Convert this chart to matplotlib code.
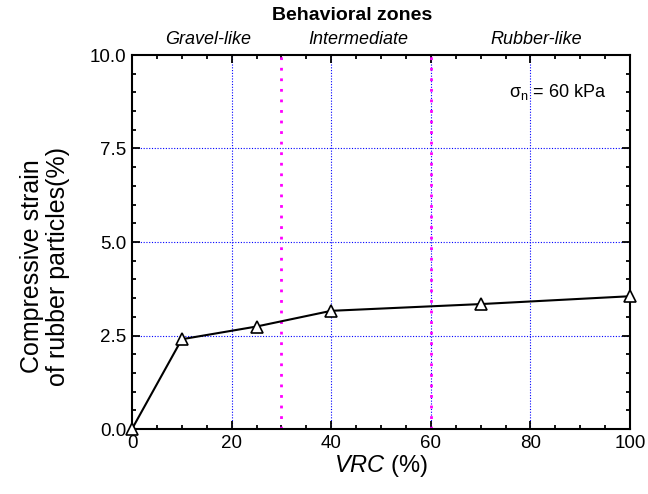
import matplotlib
matplotlib.use("Agg")
import matplotlib.pyplot as plt
from matplotlib.ticker import MultipleLocator, FormatStrFormatter

# compressive strain of rubber particles vs. volumetric rubber content
vrc = [0, 10, 25, 40, 70, 100]
strain = [0.0, 2.40, 2.74, 3.16, 3.34, 3.55]

zone_bounds = [30, 60]
zone_names = ["Gravel-like", "Intermediate", "Rubber-like"]
zone_label_x = [15.3, 45.4, 81.1]

plt.rcParams["font.family"] = ["Liberation Sans", "DejaVu Sans"]
plt.rcParams["mathtext.fontset"] = "custom"
plt.rcParams["mathtext.rm"] = "Liberation Sans"
plt.rcParams["mathtext.it"] = "Liberation Sans:italic"

fig = plt.figure(figsize=(6.48, 4.94), dpi=100)
ax = fig.add_axes([132 / 648, 1 - 429 / 494, 498 / 648, 374 / 494])

# grid
for gx in [20, 40, 60, 80]:
    ax.axvline(gx, color="blue", linestyle=(0, (1, 1.5)), linewidth=0.8, zorder=1)
for gy in [2.5, 5.0, 7.5]:
    ax.axhline(gy, color="blue", linestyle=(0, (1, 1.5)), linewidth=0.8, zorder=1)

# zone boundaries
for b in zone_bounds:
    ax.axvline(b, color="magenta", linestyle=(0, (1, 2.8)), linewidth=2.0, zorder=2)

ax.plot(vrc, strain, color="black", linewidth=1.5, marker="^", markersize=8,
        markerfacecolor="white", markeredgecolor="black", markeredgewidth=1.2,
        clip_on=False, zorder=5)

ax.set_xlim(0, 100)
ax.set_ylim(0, 10)
ax.xaxis.set_major_locator(MultipleLocator(20))
ax.xaxis.set_minor_locator(MultipleLocator(5))
ax.yaxis.set_major_locator(MultipleLocator(2.5))
ax.yaxis.set_minor_locator(MultipleLocator(0.5))
ax.yaxis.set_major_formatter(FormatStrFormatter("%.1f"))
ax.tick_params(which="both", direction="in", top=True, right=True, width=1.3)
ax.tick_params(which="major", length=6, labelsize=13.5, pad=4)
ax.tick_params(which="minor", length=3)
for s in ax.spines.values():
    s.set_linewidth(1.5)

fig.text(381 / 648, 1 - 466 / 494, r"$\it{VRC}$ (%)", fontsize=17,
         ha="center", va="center")
fig.text(45 / 648, 1 - 266 / 494, "Compressive strain\nof rubber particles(%)",
         fontsize=18, rotation=90, ha="center", va="center", multialignment="center",
         linespacing=1.1)

# zone labels above the axes
for x, name in zip(zone_label_x, zone_names):
    fx = (132 + x / 100 * 498) / 648
    fig.text(fx, 1 - 40 / 494, name, fontsize=13, style="italic",
             ha="center", va="center")
fig.text(352 / 648, 1 - 16 / 494, "Behavioral zones", fontsize=14,
         fontweight="bold", ha="center", va="center")

ax.text(75.8, 9.0, r"σ$_{\rm n}$ = 60 kPa", fontsize=13, ha="left", va="center")

fig.savefig("out.png", dpi=100)
